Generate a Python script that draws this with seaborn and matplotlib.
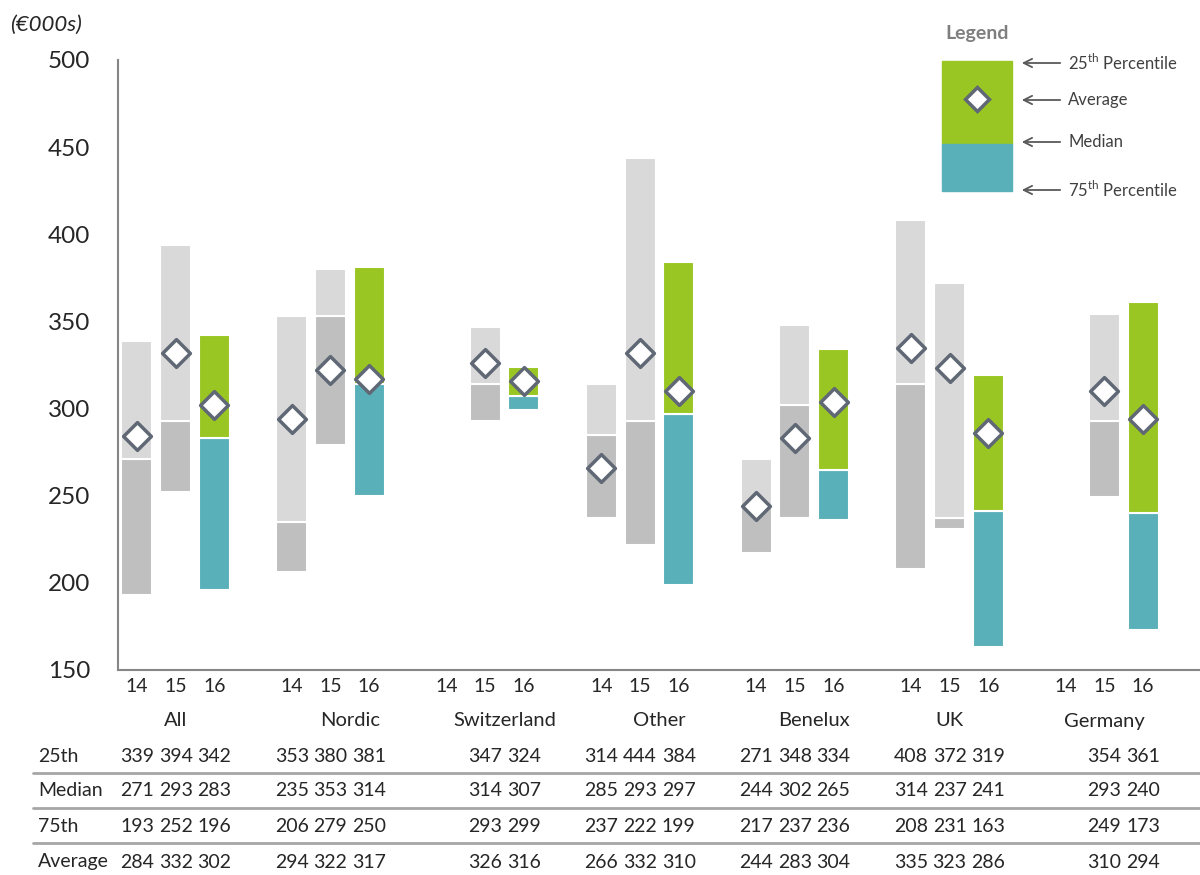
import matplotlib.pyplot as plt
import matplotlib.transforms as mtransforms
from matplotlib.patches import Rectangle
from matplotlib.lines import Line2D
import numpy as np
import pandas as pd
import seaborn as sns

nan = np.nan
groups = ["All", "Nordic", "Switzerland", "Other", "Benelux", "UK", "Germany"]
years = ["14", "15", "16"]
p25 = [[339, 394, 342], [353, 380, 381], [nan, 347, 324], [314, 444, 384],
       [271, 348, 334], [408, 372, 319], [nan, 354, 361]]
median = [[271, 293, 283], [235, 353, 314], [nan, 314, 307], [285, 293, 297],
          [244, 302, 265], [314, 237, 241], [nan, 293, 240]]
p75 = [[193, 252, 196], [206, 279, 250], [nan, 293, 299], [237, 222, 199],
       [217, 237, 236], [208, 231, 163], [nan, 249, 173]]
average = [[284, 332, 302], [294, 322, 317], [nan, 326, 316], [266, 332, 310],
           [244, 283, 304], [335, 323, 286], [nan, 310, 294]]
row_labels = ["25th", "Median", "75th", "Average"]

# long table, one row per bar
rows = []
for g, name in enumerate(groups):
    for j, yr in enumerate(years):
        rows.append(dict(group=name, year=yr, pos=g * 4 + j,
                         p25=p25[g][j], median=median[g][j],
                         p75=p75[g][j], average=average[g][j]))
df = pd.DataFrame(rows)

sns.set_style("white")
plt.rcParams['font.family'] = ['Lato', 'DejaVu Sans']

W, H = 1200, 875
fig = plt.figure(figsize=(12, 8.75), dpi=100)
fx = lambda px: px / W
fy = lambda py: 1 - py / H
ax = fig.add_axes([fx(118), fy(670), 1 - fx(118), (670 - 60) / H])

light_grey, dark_grey = "#D9D9D9", "#BFBFBF"
green, teal = "#9AC623", "#5AB0B8"
edge = "#5F6874"

bars = df.dropna()
for _, r in bars.iterrows():
    hi, lo = (green, teal) if r["year"] == "16" else (light_grey, dark_grey)
    ax.bar(r["pos"], r["median"] - r["p75"], bottom=r["p75"], width=0.8,
           color=lo, edgecolor="white", linewidth=1.5)
    ax.bar(r["pos"], r["p25"] - r["median"], bottom=r["median"], width=0.8,
           color=hi, edgecolor="white", linewidth=1.5)

sns.scatterplot(data=bars, x="pos", y="average", marker="D", s=200,
                color="white", edgecolor=edge, linewidth=2.5, zorder=5, ax=ax)

ax.set_xlim(-0.49, 27.47)
ax.set_ylim(150, 500)
ax.set_yticks(range(150, 501, 50))
ax.set_xticks(df["pos"], df["year"])
ax.set_xlabel("")
ax.set_ylabel("")
ax.tick_params(axis="y", length=8, width=1.5, color="#868686", labelsize=17.5, pad=12)
ax.tick_params(axis="x", length=0, labelsize=14, pad=6)
for s in ["top", "right"]:
    ax.spines[s].set_visible(False)
for s in ["left", "bottom"]:
    ax.spines[s].set_color("#868686")
    ax.spines[s].set_linewidth(1.5)

# group labels (some sit a little right of the group centre in the original)
label_shift = [0, 0.5, 0.5, 0.5, 0.5, 0, 0]
trans = mtransforms.blended_transform_factory(ax.transData, fig.transFigure)
for g, name in enumerate(groups):
    ax.text(g * 4 + 1 + label_shift[g], fy(721), name, transform=trans,
            ha="center", va="center", fontsize=14.5)

row_y = [757, 791, 827, 862]
series = [p25, median, p75, average]
for i, (lab, vals) in enumerate(zip(row_labels, series)):
    fig.text(fx(38), fy(row_y[i]), lab, ha="left", va="center", fontsize=14)
    for g in range(len(groups)):
        for j in range(3):
            v = vals[g][j]
            if not np.isnan(v):
                ax.text(g * 4 + j, fy(row_y[i]), f"{v:.0f}", transform=trans,
                        ha="center", va="center", fontsize=14)
for ly in [773, 808, 843]:
    fig.add_artist(Line2D([fx(33), 1], [fy(ly), fy(ly)], color="#A6A6A6", lw=2))

fig.text(fx(10), fy(25), "(€000s)", style="italic", fontsize=16, ha="left", va="center")

# legend drawn as a small diagram
fig.text(fx(977), fy(34), "Legend", fontsize=14, weight="bold", color="#7F7F7F",
         ha="center", va="center")
fig.add_artist(Rectangle((fx(942), fy(144)), fx(70), (144 - 61) / H,
                         transform=fig.transFigure, color=green))
fig.add_artist(Rectangle((fx(942), fy(191)), fx(70), (191 - 144) / H,
                         transform=fig.transFigure, color=teal))
fig.add_artist(Line2D([fx(977)], [fy(99)], marker="D", markersize=12,
                      markerfacecolor="white", markeredgecolor=edge,
                      markeredgewidth=2.5, transform=fig.transFigure))
legend_items = [(63, "25$^{\\mathregular{th}}$ Percentile"), (100, "Average"),
                (142, "Median"), (190, "75$^{\\mathregular{th}}$ Percentile")]
for py, txt in legend_items:
    fig.add_artist(plt.Annotation("", xy=(fx(1019), fy(py)), xytext=(fx(1063), fy(py)),
                                  xycoords="figure fraction", textcoords="figure fraction",
                                  arrowprops=dict(arrowstyle="->,head_length=0.6,head_width=0.3",
                                                  color="#595959", lw=1.3)))
    fig.text(fx(1068), fy(py), txt, fontsize=12, color="#404040", ha="left", va="center")

fig.savefig("out.png", dpi=100)
